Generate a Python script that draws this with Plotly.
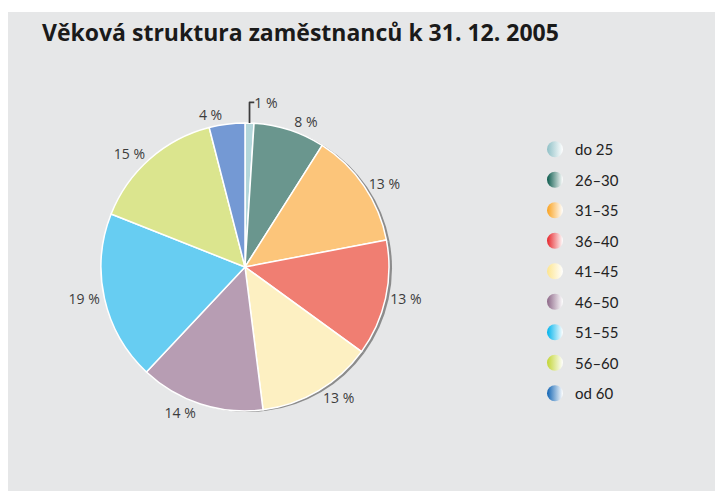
import plotly.graph_objects as go

categories = ["do 25", "26–30", "31–35", "36–40", "41–45", "46–50", "51–55", "56–60", "od 60"]
values = [1, 8, 13, 13, 13, 14, 19, 15, 4]
label_texts = ["1 %", "8 %", "13 %", "13 %", "13 %", "14 %", "19 %", "15 %", "4 %"]
dark_colors = ["#8fc0c6", "#0b5a4c", "#f9a21f", "#e6262b", "#fde58f", "#8d6888", "#00b3ec", "#c2d534", "#0f63b3"]
mid_colors = ["#b3d6da", "#6a968e", "#fcc57a", "#f07e72", "#fdf0c2", "#b79db3", "#67cdf2", "#dbe58e", "#7499d4"]

W, H = 723, 491
# page has an 8px body margin; layout coordinates compensate for it
OFF = 8
cx, cy, r = 245 - OFF, 267 - OFF, 144

fig = go.Figure()

# soft shadow behind the pie
fig.add_trace(go.Pie(
    values=values,
    labels=categories,
    sort=False, direction="clockwise", rotation=0,
    textinfo="none",
    marker=dict(colors=["#8c8c8c"] * len(values), line=dict(width=0)),
    showlegend=False, hoverinfo="skip",
    domain=dict(x=[(cx - r + 3) / W, (cx + r + 3) / W],
                y=[(H - cy - r - 1) / H, (H - cy + r - 1) / H]),
))

fig.add_trace(go.Pie(
    labels=categories,
    values=values,
    text=label_texts,
    textinfo="text",
    textposition="outside",
    sort=False,
    direction="clockwise",
    rotation=0,
    marker=dict(colors=mid_colors, line=dict(color="white", width=1.5)),
    outsidetextfont=dict(family="Open Sans, sans-serif", size=14, color="#3c3c3c"),
    showlegend=False,
    domain=dict(x=[(cx - r) / W, (cx + r) / W], y=[(H - cy - r) / H, (H - cy + r) / H]),
    hoverinfo="label+percent",
))

for i, cat in enumerate(categories):
    fig.add_trace(go.Scatter(
        x=[None], y=[None],
        mode="markers",
        name=cat,
        legendgroup=cat,
        marker=dict(symbol="circle", size=16, color=dark_colors[i],
                    gradient=dict(type="horizontal", color="#ffffff")),
        showlegend=True,
    ))

fig.update_layout(
    width=W, height=H,
    margin=dict(l=0, r=0, t=0, b=0),
    paper_bgcolor="white",
    plot_bgcolor="rgba(0,0,0,0)",
    xaxis=dict(visible=False, domain=[0.9, 1]),
    yaxis=dict(visible=False),
    showlegend=True,
    legend=dict(
        x=527 / W, y=1 - 125 / H, xanchor="left", yanchor="top",
        font=dict(family="Lato, Open Sans, sans-serif", size=15, color="#222222"),
        tracegroupgap=8,
        bgcolor="rgba(0,0,0,0)",
        itemwidth=30,
    ),
    title=dict(
        text="<b>Věková struktura zaměstnanců k 31. 12. 2005</b>",
        x=(42 - OFF) / W, xanchor="left", xref="paper",
        y=1 - (33 - OFF) / H, yanchor="middle", yref="paper",
        font=dict(family="Open Sans, sans-serif", size=23, color="#1a1a1a"),
    ),
    shapes=[dict(type="rect", xref="paper", yref="paper",
                 x0=0, x1=1, y0=0, y1=1 - (12 - OFF) / H,
                 fillcolor="#e6e7e8", line=dict(width=0), layer="below")],
)

fig.write_html("out.html")
